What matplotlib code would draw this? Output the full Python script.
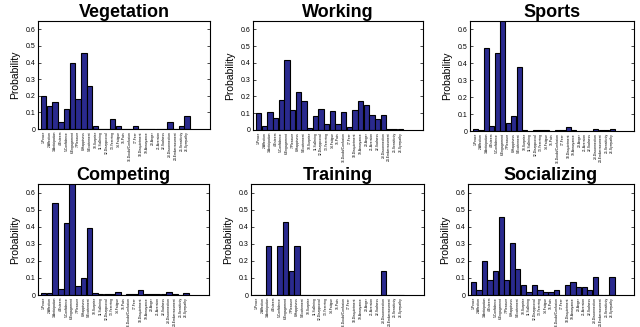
import numpy as np
import matplotlib
matplotlib.use('Agg')
import matplotlib.pyplot as plt

plt.rcParams['font.family'] = ['Liberation Sans', 'DejaVu Sans']

# emotion categories (x tick labels)
emotions = ['1.Peace', '2.Affection', '3.Anticipation', '4.Esteem', '5.Confidence',
            '6.Engagement', '7.Pleasure', '8.Happiness', '9.Excitement', '10.Surprise',
            '11.Suffering', '12.Disapproval', '13.Yearning', '14.Fatigue', '15.Pain',
            '16.Doubt/Confusion', '17.Fear', '18.Disquietment', '19.Annoyance', '20.Anger',
            '21.Aversion', '22.Sadness', '23.Disconnection', '24.Embarrassment',
            '25.Sensitivity', '26.Sympathy']

vegetation = [0.20, 0.14, 0.16, 0.04, 0.12, 0.40, 0.18, 0.46, 0.26, 0.02, 0, 0, 0.06,
              0.02, 0, 0, 0.02, 0, 0, 0, 0, 0, 0.04, 0, 0.02, 0.08]
working = [0.10, 0.025, 0.11, 0.07, 0.18, 0.42, 0.12, 0.225, 0.17, 0.014, 0.085, 0.128,
           0.035, 0.112, 0.035, 0.106, 0.02, 0.12, 0.17, 0.148, 0.09, 0.065, 0.092,
           0.006, 0.006, 0.006]
sports = [0.014, 0.004, 0.49, 0.03, 0.46, 0.70, 0.05, 0.09, 0.38, 0.006, 0, 0.008, 0.008,
          0.008, 0, 0.008, 0.004, 0.025, 0.008, 0.002, 0, 0.002, 0.014, 0.005, 0.004, 0.01]
competing = [0.01, 0.014, 0.537, 0.033, 0.423, 0.70, 0.05, 0.098, 0.395, 0.012, 0.004,
             0.008, 0.006, 0.016, 0.002, 0.008, 0.006, 0.03, 0.008, 0.005, 0.005, 0.004,
             0.018, 0.004, 0.002, 0.014]
training = [0, 0, 0.286, 0, 0.286, 0.429, 0.143, 0.286, 0, 0, 0, 0, 0, 0, 0, 0, 0, 0, 0,
            0, 0, 0, 0.143, 0, 0, 0]
socializing = [0.075, 0.03, 0.197, 0.09, 0.138, 0.457, 0.09, 0.303, 0.153, 0.061, 0.016,
               0.061, 0.03, 0.015, 0.015, 0.03, 0, 0.061, 0.076, 0.045, 0.045, 0.03,
               0.106, 0, 0, 0.106]

panels = [('Vegetation', vegetation), ('Working', working), ('Sports', sports),
          ('Competing', competing), ('Training', training), ('Socializing', socializing)]

# axes boxes in pixels: left, right, top, bottom
boxes = [(38, 210, 21, 129), (253, 423, 21, 130), (470, 634, 21, 131),
         (38, 209, 184, 295), (251, 424, 184, 295), (468, 634, 184, 295)]

W, H = 640, 327
fig = plt.figure(figsize=(6.4, 3.27), dpi=100)

x = np.arange(1, 27)
for (name, vals), (l, r, t, b) in zip(panels, boxes):
    ax = fig.add_axes([l / W, (H - b) / H, (r - l) / W, (b - t) / H])
    ax.bar(x, vals, width=0.96, color='#2a2a8e', edgecolor='black', linewidth=0.8)
    ax.set_xlim(0, 30)
    ax.set_ylim(0, 0.65)
    ax.set_yticks([0, 0.1, 0.2, 0.3, 0.4, 0.5, 0.6])
    ax.set_yticklabels(['0', '0.1', '0.2', '0.3', '0.4', '0.5', '0.6'], fontsize=5)
    ax.set_xticks(x)
    ax.set_xticklabels(emotions, rotation=90, fontsize=2.4)
    ax.tick_params(direction='in', length=2, width=0.5, right=True, top=False, pad=2)
    ax.tick_params(axis='x', length=0, pad=1.5)
    for s in ax.spines.values():
        s.set_linewidth(0.8)
    ax.set_ylabel('Probability', fontsize=7.5, labelpad=4)
    ax.set_title(name, fontsize=13, fontweight='bold', pad=1)

fig.savefig('out.png', dpi=100)
